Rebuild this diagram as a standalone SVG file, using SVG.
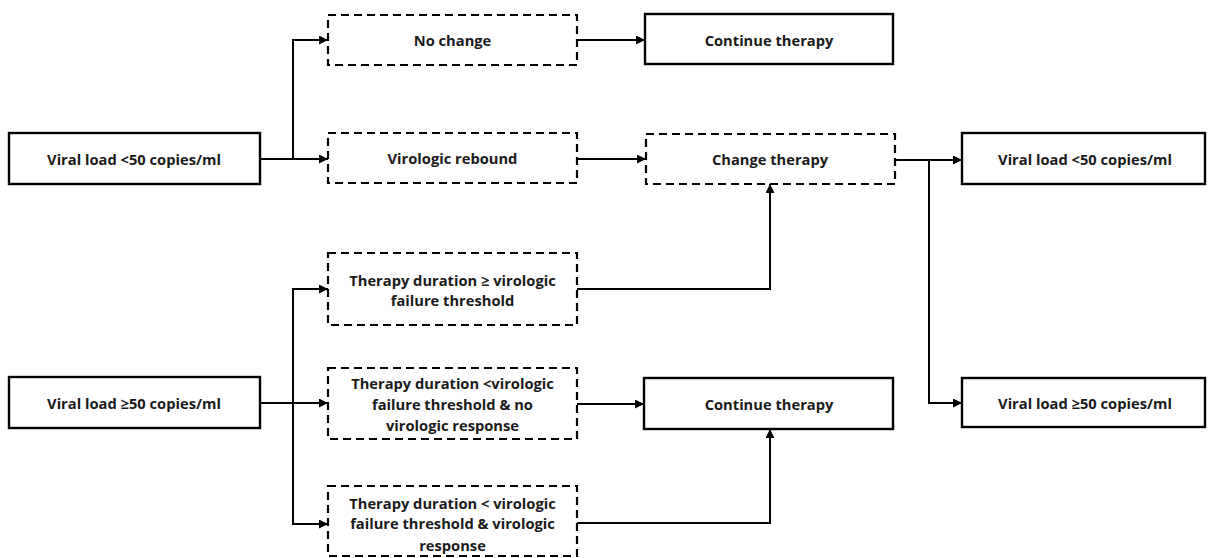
<svg xmlns="http://www.w3.org/2000/svg" width="1211" height="558" viewBox="0 0 1211 558">
<defs>
<marker id="ah" viewBox="0 0 10 10" refX="10" refY="5" markerWidth="10" markerHeight="9" markerUnits="userSpaceOnUse" orient="auto">
<path d="M0,0 L10,5 L0,10 z" fill="#000"/>
</marker>
<style>
.solid{fill:#fff;stroke:#000;stroke-width:2.4}
.dash{fill:#fff;stroke:#000;stroke-width:2.2;stroke-dasharray:8 5}
.t{font-family:"Open Sans","Noto Sans",sans-serif;font-weight:bold;font-size:14.7px;fill:#1a1a1a;text-anchor:middle;dominant-baseline:central}
.c{fill:none;stroke:#000;stroke-width:2}
</style>
</defs>
<rect width="1211" height="558" fill="#fff"/>
<g id="connectors">
<path class="c" d="M260,159 H293 V40 H328" marker-end="url(#ah)"/>
<path class="c" d="M293,159 H328" marker-end="url(#ah)"/>
<path class="c" d="M577,40 H645" marker-end="url(#ah)"/>
<path class="c" d="M577,159 H646" marker-end="url(#ah)"/>
<path class="c" d="M895,160 H962" marker-end="url(#ah)"/>
<path class="c" d="M929,160 V403 H962" marker-end="url(#ah)"/>
<path class="c" d="M577,289 H770 V184" marker-end="url(#ah)"/>
<path class="c" d="M260,403 H328" marker-end="url(#ah)"/>
<path class="c" d="M293,403 V289 H328" marker-end="url(#ah)"/>
<path class="c" d="M293,403 V524 H328" marker-end="url(#ah)"/>
<path class="c" d="M577,404 H644" marker-end="url(#ah)"/>
<path class="c" d="M577,523 H770 V429" marker-end="url(#ah)"/>
</g>
<g id="vl-low-left"><rect class="solid" x="9" y="133" width="251" height="51"/><text class="t" x="134" y="158.5">Viral load &lt;50 copies/ml</text></g>
<g id="vl-high-left"><rect class="solid" x="9" y="377" width="251" height="51"/><text class="t" x="134" y="402.5">Viral load ≥50 copies/ml</text></g>
<g id="no-change"><rect class="dash" x="328" y="15" width="249" height="50"/><text class="t" x="452.5" y="40">No change</text></g>
<g id="rebound"><rect class="dash" x="328" y="133" width="249" height="50"/><text class="t" x="452.5" y="158">Virologic rebound</text></g>
<g id="continue-top"><rect class="solid" x="645" y="14" width="248" height="50"/><text class="t" x="769" y="39.5">Continue therapy</text></g>
<g id="change"><rect class="dash" x="646" y="134" width="249" height="50"/><text class="t" x="770" y="159">Change therapy</text></g>
<g id="vl-low-right"><rect class="solid" x="962" y="133" width="243" height="51"/><text class="t" x="1085" y="158.5">Viral load &lt;50 copies/ml</text></g>
<g id="vl-high-right"><rect class="solid" x="962" y="378" width="243" height="49"/><text class="t" x="1085" y="403">Viral load ≥50 copies/ml</text></g>
<g id="dur-ge"><rect class="dash" x="328" y="253" width="249" height="72"/><text class="t" x="452.5" y="280">Therapy duration ≥ virologic</text><text class="t" x="452.5" y="300">failure threshold</text></g>
<g id="dur-lt-no"><rect class="dash" x="328" y="368" width="249" height="71"/><text class="t" x="452.5" y="383">Therapy duration &lt;virologic</text><text class="t" x="452.5" y="404">failure threshold &amp; no</text><text class="t" x="452.5" y="425">virologic response</text></g>
<g id="dur-lt-yes"><rect class="dash" x="328" y="486" width="249" height="70"/><text class="t" x="452.5" y="503">Therapy duration &lt; virologic</text><text class="t" x="452.5" y="523">failure threshold &amp; virologic</text><text class="t" x="452.5" y="545">response</text></g>
<g id="continue-bottom"><rect class="solid" x="644" y="378" width="249" height="51"/><text class="t" x="769" y="403.5">Continue therapy</text></g>
</svg>
